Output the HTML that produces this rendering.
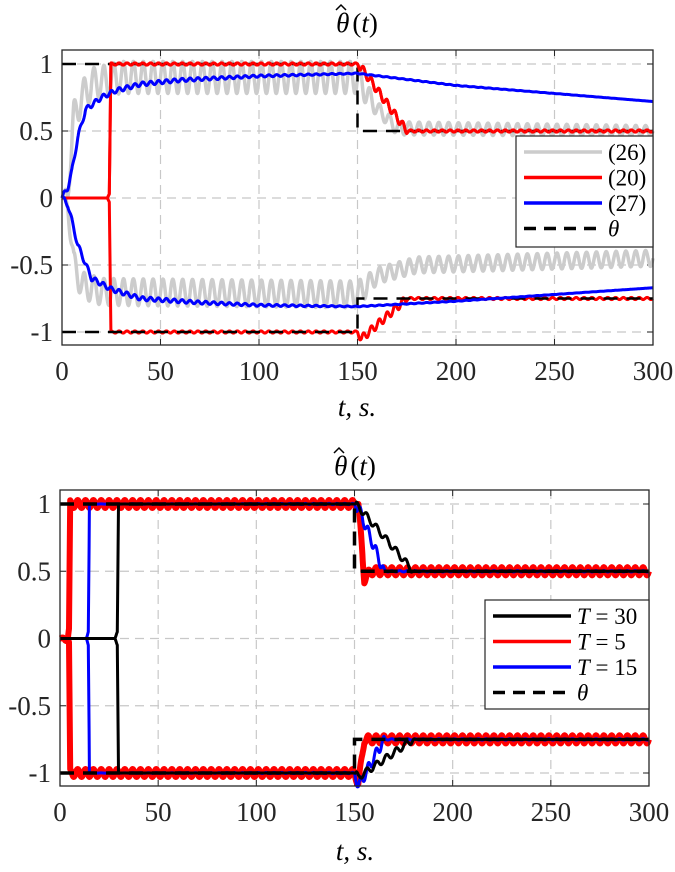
<!DOCTYPE html>
<html><head><meta charset="utf-8">
<style>
body{margin:0;background:#fff;}
svg{display:block;font-family:"Liberation Serif",serif;}
.tk{font-size:27px;fill:#262626;}
</style></head>
<body>
<svg id="fig" width="675" height="872" viewBox="0 0 675 872">
<g id="p1"></g>
<g id="p2"></g>
</svg>
<script>
// ---- data (time, value keypoints); ripple = [time, amplitude] ----
const xTicks = [0,50,100,150,200,250,300];
const yTicks = [1,0.5,0,-0.5,-1];
const yTickLabels = ["1","0.5","0","-0.5","-1"];

// Top plot
const thetaUpT = [[0,1],[150,1],[150,0.5],[300,0.5]];
const thetaLoT = [[0,-1],[150,-1],[150,-0.75],[300,-0.75]];
const grayUp = [[0,0],[3,0.05],[6,0.6],[10,0.75],[15,0.85],[30,0.9],[150,0.9],[158,0.7],[170,0.52],[300,0.5]];
const grayUpRip = [[0,0],[5,0.12],[150,0.12],[160,0.05],[300,0.04]];
const grayLo = [[0,0],[3,-0.05],[6,-0.5],[10,-0.65],[20,-0.7],[150,-0.72],[160,-0.58],[180,-0.5],[300,-0.45]];
const grayLoRip = [[0,0],[5,0.1],[150,0.1],[160,0.06],[300,0.06]];
const redUp = [[0,0],[23,0],[24,0.03],[24.8,1],[150,1],[152,0.97],[175,0.5],[300,0.5]];
const redUpRip = [[0,0],[24,0],[25,0.008],[150,0.008],[151,0.03],[174,0.03],[176,0.008],[300,0.008]];
const redLo = [[0,0],[23,0],[24,-0.03],[24.8,-1],[150,-1],[152,-1.05],[175,-0.75],[300,-0.75]];
const redLoRip = redUpRip;
const blueUp = [[0,0],[3,0.08],[5,0.2],[8,0.45],[12,0.66],[20,0.75],[27,0.8],[40,0.85],[60,0.88],[100,0.91],[150,0.93],[200,0.84],[250,0.78],[300,0.72]];
const blueUpRip = [[0,0.02],[40,0.015],[100,0.008],[150,0.003],[300,0]];
const blueLo = [[0,0],[3,-0.05],[8,-0.35],[15,-0.6],[25,-0.68],[40,-0.75],[70,-0.78],[100,-0.8],[150,-0.81],[200,-0.77],[250,-0.72],[300,-0.67]];
const blueLoRip = blueUpRip;

// Bottom plot
const b30Up = [[0,0],[28,0],[29.2,0.05],[29.8,1],[150,1],[152,0.98],[180,0.5],[300,0.5]];
const b30Lo = [[0,0],[28,0],[29.2,-0.05],[29.8,-1],[150,-1],[152,-1.03],[180,-0.75],[300,-0.75]];
const b30Rip = [[0,0],[150,0],[151,0.025],[179,0.025],[181,0],[300,0]];
const r5Up = [[0,0],[4,0],[4.6,0.05],[5.2,1],[150,1],[152,1],[155,0.44],[158,0.5],[300,0.5]];
const r5Lo = [[0,0],[4,0],[4.6,-0.05],[5.2,-1],[150,-1],[152,-1.08],[155,-0.75],[300,-0.75]];
const r5Rip = [[0,0],[5,0.03],[300,0.03]];
const b15Up = [[0,0],[13.5,0],[14.4,0.05],[15,1],[150,1],[152,0.97],[165,0.5],[300,0.5]];
const b15Lo = [[0,0],[13.5,0],[14.4,-0.05],[15,-1],[150,-1],[152,-1.1],[165,-0.75],[300,-0.75]];
const b15Rip = [[0,0],[150,0.005],[151,0.04],[164,0.04],[166,0.005],[300,0.005]];

const NS='http://www.w3.org/2000/svg';
function interp(pts,t){
  if(t<=pts[0][0])return pts[0][1];
  for(let i=1;i<pts.length;i++){
    if(t<=pts[i][0]){const a=pts[i-1],b=pts[i];if(b[0]===a[0])return b[1];return a[1]+(b[1]-a[1])*(t-a[0])/(b[0]-a[0]);}
  }
  return pts[pts.length-1][1];
}
function mk(tag,attrs,parent){const e=document.createElementNS(NS,tag);for(const k in attrs)e.setAttribute(k,attrs[k]);parent.appendChild(e);return e;}

function axes(g,L,R,T,B,yz,ys){
  const X=t=>L+(t)*(R-L)/300, Y=v=>yz-v*ys;
  const grid=mk('g',{},g);
  
  
  xTicks.forEach(t=>{
    if(t>0&&t<300){mk('line',{x1:X(t),x2:X(t),y1:T,y2:B,stroke:'#c8c8c8','stroke-width':1.2,'stroke-dasharray':'9,6'},grid);}
    mk('line',{x1:X(t),x2:X(t),y1:B,y2:B-6,stroke:'#262626'},g);
    mk('line',{x1:X(t),x2:X(t),y1:T,y2:T+6,stroke:'#262626'},g);
    const tx=mk('text',{x:X(t),y:B+35,'text-anchor':'middle',class:'tk'},g);
    tx.textContent=t;
    
    
  });
  yTicks.forEach((v,i)=>{
    mk('line',{x1:L,x2:R,y1:Y(v),y2:Y(v),stroke:'#c8c8c8','stroke-width':1.2,'stroke-dasharray':'9,6'},grid);
    mk('line',{x1:L,x2:L+6,y1:Y(v),y2:Y(v),stroke:'#262626'},g);
    mk('line',{x1:R,x2:R-6,y1:Y(v),y2:Y(v),stroke:'#262626'},g);
    const tx=mk('text',{x:L-9,y:Y(v)+9,'text-anchor':'end',class:'tk'},g);
    tx.textContent=yTickLabels[i];
    
    
  });
  return {X,Y};
}
function series(g,sc,base,rip,per,color,w,name){
  let d='';
  for(let t=0;t<=300;t+=0.2){
    const a=rip?interp(rip,t):0;
    const v=interp(base,t)+a*Math.sin(2*Math.PI*t/per);
    d+=(t===0?'M':'L')+sc.X(t).toFixed(1)+','+sc.Y(v).toFixed(1);
  }
  const p=mk('path',{d:d,fill:'none',stroke:color,'stroke-width':w,'stroke-linejoin':'round'},g);
  
  
}
function stepLine(g,sc,pts,w,name){
  const d=pts.map((p,i)=>(i?'L':'M')+sc.X(p[0]).toFixed(1)+','+sc.Y(p[1]).toFixed(1)).join('');
  const p=mk('path',{d:d,fill:'none',stroke:'#000','stroke-width':w,'stroke-dasharray':'14,9'},g);
  
  
}
function frame(g,L,R,T,B){
  const r=mk('rect',{x:L,y:T,width:R-L,height:B-T,fill:'none',stroke:'#262626','stroke-width':1.3},g);
  
  
}
function legend(g,x,y,w,h,items){
  const lg=mk('g',{},g);
  
  
  mk('rect',{x:x,y:y,width:w,height:h,fill:'#fff',stroke:'#262626','stroke-width':1.2},lg);
  items.forEach((it,i)=>{
    const yy=y+16+i*25.5;
    const e=mk('g',{},lg);
    
    
    mk('line',{x1:x+8,x2:x+86,y1:yy,y2:yy,stroke:it[1],'stroke-width':3.5,'stroke-dasharray':it[2]||'none'},e);
    const t=mk('text',{x:x+92,y:yy+8,style:'font-size:23px'},e);
    t.innerHTML=it[0];
  });
}
function title(g,x,y){
  const t=mk('text',{x:x,y:y,'text-anchor':'middle',style:'font-size:27px'},g);
  t.innerHTML='<tspan font-style="italic">θ</tspan><tspan dx="3">(</tspan><tspan font-style="italic">t</tspan>)';
  
  
  const h=mk('path',{d:`M${x-21},${y-22} L${x-16},${y-27} L${x-11},${y-22}`,fill:'none',stroke:'#000','stroke-width':1.5},g);
  
  
}
function xlabel(g,x,y){
  const t=mk('text',{x:x,y:y,'text-anchor':'middle',style:'font-size:27px;font-style:italic'},g);
  t.textContent='t, s.';
  
  
}

// Top plot
const g1=document.getElementById('p1');
const s1=axes(g1,62,653,50,345,198,134);
series(g1,s1,grayUp,grayUpRip,5,'#cccccc',3.5,'series-26-upper');
series(g1,s1,grayLo,grayLoRip,5,'#cccccc',3.5,'series-26-lower');
series(g1,s1,redUp,redUpRip,4,'#ff0000',3,'series-20-upper');
series(g1,s1,redLo,redLoRip,4,'#ff0000',3,'series-20-lower');
stepLine(g1,s1,thetaUpT,2.5,'theta-upper');
stepLine(g1,s1,thetaLoT,2.5,'theta-lower');
series(g1,s1,redUp,redUpRip,4,'#ff0000',3,'series-20-upper-top');
series(g1,s1,blueUp,blueUpRip,4,'#0000ff',3,'series-27-upper');
series(g1,s1,blueLo,blueLoRip,4,'#0000ff',3,'series-27-lower');
frame(g1,62,653,50,345);
legend(g1,516,136,137,111,[['(26)','#cccccc'],['(20)','#ff0000'],['(27)','#0000ff'],['<tspan font-style="italic">θ</tspan>','#000','12,8']]);
title(g1,357,32);
xlabel(g1,357,416);

// Bottom plot
const g2=document.getElementById('p2');
const s2=axes(g2,60,649,490,786,638.5,134.5);
series(g2,s2,r5Up,r5Rip,4,'#ff0000',6,'series-T5-upper');
series(g2,s2,r5Lo,r5Rip,4,'#ff0000',6,'series-T5-lower');
series(g2,s2,b15Up,b15Rip,4,'#0000ff',3,'series-T15-upper');
series(g2,s2,b15Lo,b15Rip,4,'#0000ff',3,'series-T15-lower');
series(g2,s2,b30Up,b30Rip,5,'#000000',3,'series-T30-upper');
series(g2,s2,b30Lo,b30Rip,5,'#000000',3,'series-T30-lower');
stepLine(g2,s2,thetaUpT,3.5,'theta-upper');
stepLine(g2,s2,thetaLoT,3.5,'theta-lower');
frame(g2,60,649,490,786);
legend(g2,485,600,164,109,[['<tspan font-style="italic">T</tspan> = 30','#000'],['<tspan font-style="italic">T</tspan> = 5','#ff0000'],['<tspan font-style="italic">T</tspan> = 15','#0000ff'],['<tspan font-style="italic">θ</tspan>','#000','12,8']]);
title(g2,355,475);
xlabel(g2,355,860);
</script>
</body></html>
